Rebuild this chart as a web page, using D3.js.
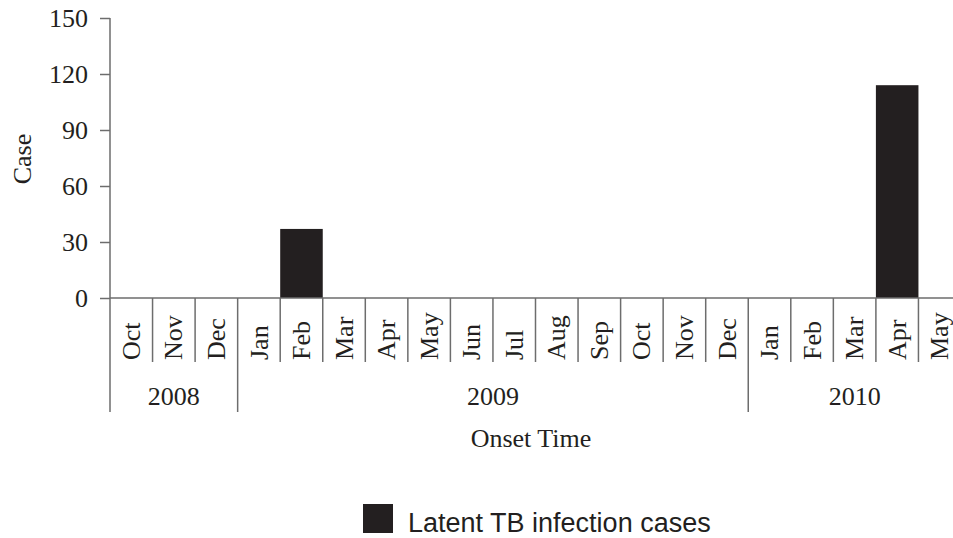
<!DOCTYPE html>
<html>
<head>
<meta charset="utf-8">
<script src="https://d3js.org/d3.v7.min.js"></script>
<style>
  body { margin: 0; background: #fff; }
  text { fill: #231f20; }
</style>
</head>
<body>
<svg width="953" height="538"></svg>
<script>
// months shown on the x axis, with the year each belongs to
var months = ['Oct', 'Nov', 'Dec', 'Jan', 'Feb', 'Mar', 'Apr', 'May', 'Jun', 'Jul', 'Aug', 'Sep', 'Oct', 'Nov', 'Dec', 'Jan', 'Feb', 'Mar', 'Apr', 'May'];
var monthYears = [2008, 2008, 2008, 2009, 2009, 2009, 2009, 2009, 2009, 2009, 2009, 2009, 2009, 2009, 2009, 2010, 2010, 2010, 2010, 2010];
// latent TB infection cases per month
var cases = [0, 0, 0, 0, 37, 0, 0, 0, 0, 0, 0, 0, 0, 0, 0, 0, 0, 0, 114, 0];
var yTicks = [0, 30, 60, 90, 120, 150];
var years = [2008, 2009, 2010];

var serif = '"Liberation Serif", "Times New Roman", serif';
var ink = '#231f20';
var axisCol = '#6d6d6d';

// plot box
var plotLeft = 110, plotTop = 18, plotBottom = 298, plotRight = 961;

var svg = d3.select('svg');

var keys = months.map(function(m, i) { return i; });
var x = d3.scaleBand().domain(keys).range([plotLeft, plotRight]).padding(0);
var y = d3.scaleLinear().domain([0, 150]).range([plotBottom, plotTop]);

// bars
svg.append('g').selectAll('rect')
  .data(cases)
  .enter()
  .append('rect')
  .attr('x', function(d, i) { return x(i); })
  .attr('y', function(d) { return y(d); })
  .attr('width', x.bandwidth())
  .attr('height', function(d) { return plotBottom - y(d); })
  .attr('fill', ink);

// y axis
var yAxis = svg.append('g')
  .attr('transform', 'translate(' + plotLeft + ',0)')
  .call(d3.axisLeft(y).tickValues(yTicks).tickSize(10).tickPadding(12));
yAxis.select('.domain').remove();
yAxis.selectAll('line').attr('stroke', axisCol).attr('stroke-width', 1.5);
yAxis.selectAll('text')
  .style('font-family', serif).style('font-size', '26px').attr('fill', ink);

// vertical axis line runs down through the category rows
svg.append('line')
  .attr('x1', plotLeft).attr('x2', plotLeft)
  .attr('y1', plotTop).attr('y2', 412)
  .attr('stroke', axisCol).attr('stroke-width', 1.5);

// x axis baseline
svg.append('line')
  .attr('x1', plotLeft).attr('x2', 953)
  .attr('y1', plotBottom).attr('y2', plotBottom)
  .attr('stroke', axisCol).attr('stroke-width', 1.5);

// month separators, longer where the year changes
svg.append('g').selectAll('line')
  .data(keys.slice(1))
  .enter()
  .append('line')
  .attr('x1', function(d) { return x(d); })
  .attr('x2', function(d) { return x(d); })
  .attr('y1', plotBottom)
  .attr('y2', function(d) { return monthYears[d] !== monthYears[d - 1] ? 412 : 362; })
  .attr('stroke', axisCol).attr('stroke-width', 1.5);

// month labels
svg.append('g').selectAll('text')
  .data(months)
  .enter()
  .append('text')
  .attr('transform', function(d, i) {
    return 'translate(' + (x(i) + x.bandwidth() / 2) + ',360) rotate(-90)';
  })
  .attr('dy', '0.33em')
  .attr('text-anchor', 'start')
  .style('font-family', serif).style('font-size', '26px')
  .text(function(d) { return d; });

// year labels, centred under their months
svg.append('g').selectAll('text')
  .data(years)
  .enter()
  .append('text')
  .attr('x', function(yr) {
    var idx = keys.filter(function(i) { return monthYears[i] === yr; });
    return (x(idx[0]) + x(idx[idx.length - 1]) + x.bandwidth()) / 2;
  })
  .attr('y', 405)
  .attr('text-anchor', 'middle')
  .style('font-family', serif).style('font-size', '26px')
  .text(function(d) { return d; });

// axis titles
svg.append('text')
  .attr('x', 531).attr('y', 447)
  .attr('text-anchor', 'middle')
  .style('font-family', serif).style('font-size', '26px')
  .text('Onset Time');

svg.append('text')
  .attr('transform', 'translate(31,159) rotate(-90)')
  .attr('text-anchor', 'middle')
  .style('font-family', serif).style('font-size', '26px')
  .text('Case');

// legend
svg.append('rect')
  .attr('x', 363).attr('y', 504)
  .attr('width', 30).attr('height', 29)
  .attr('fill', ink);
svg.append('text')
  .attr('x', 408).attr('y', 532)
  .style('font-family', '"Liberation Sans", Arial, sans-serif')
  .style('font-size', '27px')
  .text('Latent TB infection cases');
</script>
</body>
</html>
